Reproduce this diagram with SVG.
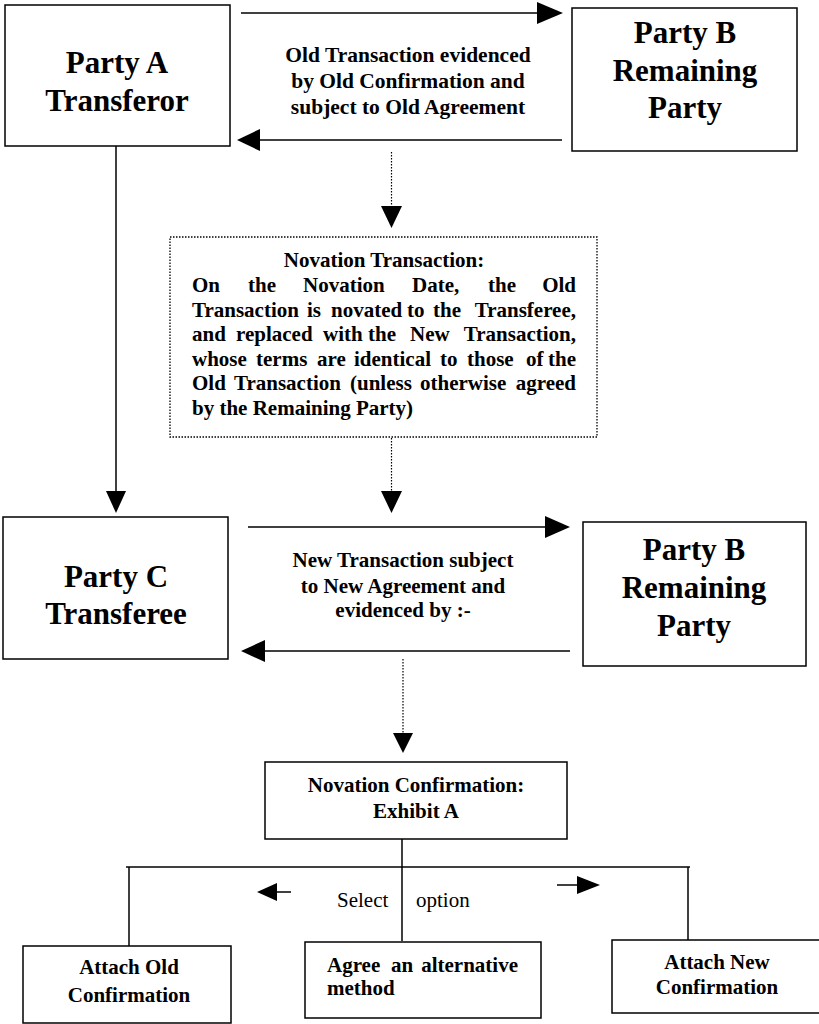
<svg xmlns="http://www.w3.org/2000/svg" width="819" height="1024" viewBox="0 0 819 1024" font-family="Liberation Serif, Tinos, Times New Roman, serif">
<style>
.box{fill:#fff;stroke:#000;stroke-width:1.5}
.dbox{fill:#fff;stroke:#000;stroke-width:1.3;stroke-dasharray:1.5 1.5}
.ln{stroke:#000;stroke-width:1.5;fill:none}
.dl{stroke:#000;stroke-width:1.2;stroke-dasharray:1.5 1.5;fill:none}
.ah{fill:#000}
text{font-family:'Liberation Serif',Tinos,'Times New Roman',serif}
.big{font-weight:bold;font-size:31px;text-anchor:middle}
.lbl{font-weight:bold;font-size:21px}
.c{text-anchor:middle}
.reg{font-size:21px}
</style>
<rect width="819" height="1024" fill="#fff"/>
<g id="connectors">
  <line class="ln" x1="241" y1="13" x2="540" y2="13"/>
  <polygon class="ah" points="537,2 563,13 537,24"/>
  <line class="ln" x1="562" y1="140" x2="256" y2="140"/>
  <polygon class="ah" points="260,129 237,140 260,151"/>
  <line class="ln" x1="116" y1="146" x2="116" y2="492"/>
  <polygon class="ah" points="106,491 126,491 116,513"/>
  <line class="dl" x1="391.5" y1="152" x2="391.5" y2="207"/>
  <polygon class="ah" points="381,206 402,206 391.5,228"/>
  <line class="dl" x1="391.5" y1="438" x2="391.5" y2="492"/>
  <polygon class="ah" points="381,491 402,491 391.5,513"/>
  <line class="ln" x1="248" y1="527" x2="548" y2="527"/>
  <polygon class="ah" points="545,516 570,527 545,538"/>
  <line class="ln" x1="570" y1="651" x2="262" y2="651"/>
  <polygon class="ah" points="265,640 241,651 265,662"/>
  <line class="dl" x1="403" y1="659" x2="403" y2="734"/>
  <polygon class="ah" points="393,733 413,733 403,753"/>
  <line class="ln" x1="402" y1="838" x2="402" y2="941"/>
  <line class="ln" x1="126" y1="867" x2="690" y2="867"/>
  <line class="ln" x1="129" y1="867" x2="129" y2="946"/>
  <line class="ln" x1="688" y1="867" x2="688" y2="940"/>
  <line class="ln" x1="275" y1="892" x2="291" y2="892"/>
  <polygon class="ah" points="277,883 257,892 277,901"/>
  <line class="ln" x1="557" y1="885" x2="579" y2="885"/>
  <polygon class="ah" points="577,876 600,885 577,894"/>
  <text class="reg" x="337" y="907">Select</text>
  <text class="reg" x="416" y="907">option</text>
</g>
<g id="partyA">
  <rect class="box" x="5" y="5" width="225" height="141"/>
  <text class="big" x="117" y="73">Party A</text>
  <text class="big" x="117" y="111">Transferor</text>
</g>
<g id="partyB1">
  <rect class="box" x="572" y="8" width="225" height="143"/>
  <text class="big" x="685" y="43">Party B</text>
  <text class="big" x="685" y="81">Remaining</text>
  <text class="big" x="685" y="118">Party</text>
</g>
<g id="oldLabel" class="lbl" font-size="21.5">
  <text class="c" x="408" y="62" style="font-size:21.5px">Old Transaction evidenced</text>
  <text class="c" x="408" y="88" style="font-size:21.5px">by Old Confirmation and</text>
  <text class="c" x="408" y="114" style="font-size:21.5px">subject to Old Agreement</text>
</g>
<g id="novation">
  <rect class="dbox" x="170" y="237" width="427" height="200"/>
  <g class="lbl">
    <text class="c" x="384" y="267">Novation Transaction:</text>
    <text y="292"><tspan x="192">On</tspan><tspan x="248">the</tspan><tspan x="303">Novation</tspan><tspan x="412">Date,</tspan><tspan x="488">the</tspan><tspan x="576" text-anchor="end">Old</tspan></text>
    <text y="316.5"><tspan x="192">Transaction</tspan><tspan x="307">is</tspan><tspan x="331">novated</tspan><tspan x="407">to</tspan><tspan x="433">the</tspan><tspan x="576" text-anchor="end">Transferee,</tspan></text>
    <text y="341"><tspan x="192">and</tspan><tspan x="236">replaced</tspan><tspan x="323">with</tspan><tspan x="368">the</tspan><tspan x="410">New</tspan><tspan x="576" text-anchor="end">Transaction,</tspan></text>
    <text y="365.5"><tspan x="192">whose</tspan><tspan x="256">terms</tspan><tspan x="317">are</tspan><tspan x="354">identical</tspan><tspan x="440">to</tspan><tspan x="467">those</tspan><tspan x="526">of</tspan><tspan x="576" text-anchor="end">the</tspan></text>
    <text y="390"><tspan x="192">Old</tspan><tspan x="234">Transaction</tspan><tspan x="350">(unless</tspan><tspan x="420">otherwise</tspan><tspan x="576" text-anchor="end">agreed</tspan></text>
    <text x="192" y="415">by the Remaining Party)</text>
  </g>
</g>
<g id="partyC">
  <rect class="box" x="3" y="517" width="225" height="142"/>
  <text class="big" x="116" y="587">Party C</text>
  <text class="big" x="116" y="624">Transferee</text>
</g>
<g id="partyB2">
  <rect class="box" x="583" y="522" width="223" height="144"/>
  <text class="big" x="694" y="560">Party B</text>
  <text class="big" x="694" y="598">Remaining</text>
  <text class="big" x="694" y="636">Party</text>
</g>
<g id="newLabel" class="lbl">
  <text class="c" x="403" y="567">New Transaction subject</text>
  <text class="c" x="403" y="593">to New Agreement and</text>
  <text class="c" x="403" y="617">evidenced by :-</text>
</g>
<g id="novConf">
  <rect class="box" x="265" y="762" width="302" height="77"/>
  <text class="lbl c" x="416" y="792">Novation Confirmation:</text>
  <text class="lbl c" x="416" y="818">Exhibit A</text>
</g>
<g id="attachOld">
  <rect class="box" x="23" y="946" width="208" height="77"/>
  <text class="lbl c" x="129" y="974">Attach Old</text>
  <text class="lbl c" x="129" y="1002">Confirmation</text>
</g>
<g id="agree">
  <rect class="box" x="305" y="942" width="236" height="76"/>
  <text class="lbl" y="972"><tspan x="327">Agree</tspan><tspan x="391">an</tspan><tspan x="518" text-anchor="end">alternative</tspan></text>
  <text class="lbl" x="327" y="995">method</text>
</g>
<g id="attachNew">
  <rect class="box" x="612" y="940" width="211" height="73"/>
  <text class="lbl c" x="717" y="969">Attach New</text>
  <text class="lbl c" x="717" y="994">Confirmation</text>
</g>
</svg>
